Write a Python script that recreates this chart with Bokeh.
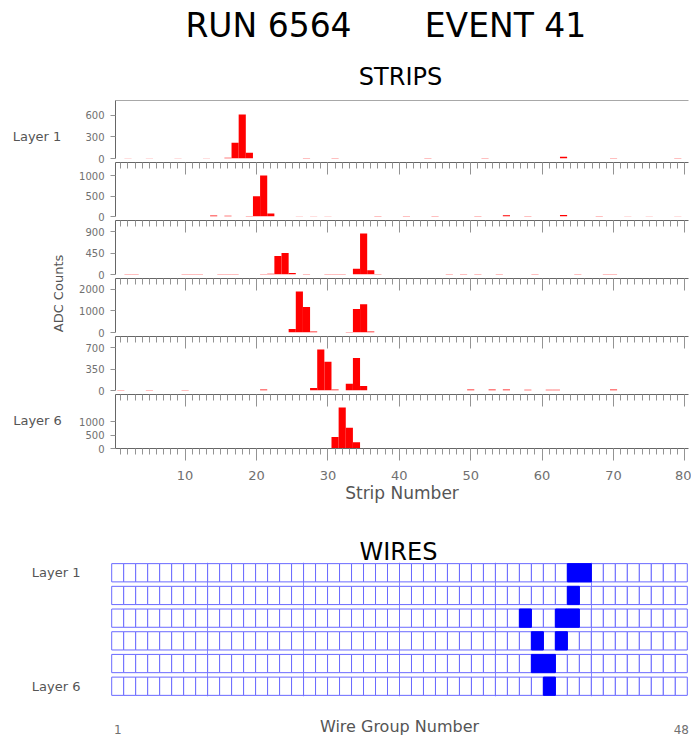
import math
from bokeh.plotting import figure
from bokeh.models import (Range1d, LinearAxis, FixedTicker, SingleIntervalTicker, Label,
                          CustomLabelingPolicy)
from bokeh.layouts import column, row
from bokeh.embed import file_html
from bokeh.resources import INLINE

# ---------------- data ----------------
run_number = 6564
event_number = 41

l1_strips = [2, 5, 9, 13, 16, 17, 18, 19, 27, 31, 44, 52, 63, 70, 79]
l1_adc    = [5, 5, 5, 5, 12, 218, 608, 80, 6, 6, 6, 6, 25, 6, 6]

l2_strips = [14, 16, 19, 20, 21, 22, 26, 28, 30, 37, 41, 45, 51, 55, 58, 63, 68, 72, 75, 79]
l2_adc    = [25, 20, 10, 497, 1000, 75, 8, 8, 8, 10, 10, 10, 10, 30, 10, 35, 10, 8, 8, 8]

l3_strips = [2, 3, 10, 11, 12, 15, 16, 17, 21, 22, 23, 24, 25, 27, 30, 31, 32,
             34, 35, 36, 37, 47, 49, 51, 54, 59, 65, 69, 70]
l3_adc    = [12, 12, 10, 10, 10, 10, 10, 10, 10, 15, 387, 450, 33, 10, 8, 8, 8,
             122, 857, 91, 10, 12, 12, 10, 10, 10, 8, 12, 12]

l4_strips = [25, 26, 27, 28, 33, 34, 35, 36]
l4_adc    = [159, 1888, 1176, 43, 20, 1090, 1305, 43]

l5_strips = [1, 5, 10, 21, 28, 29, 30, 31, 33, 34, 35, 50, 53, 55, 58, 61, 62, 70]
l5_adc    = [8, 8, 8, 15, 42, 672, 472, 15, 112, 534, 72, 15, 15, 15, 12, 12, 12, 15]

l6_strips = [7, 10, 31, 32, 33, 34, 50, 55, 56, 57, 58, 61, 63]
l6_adc    = [10, 10, 428, 1531, 772, 231, 8, 10, 10, 10, 10, 8, 8]

layer_strips = [l1_strips, l2_strips, l3_strips, l4_strips, l5_strips, l6_strips]
layer_adc = [l1_adc, l2_adc, l3_adc, l4_adc, l5_adc, l6_adc]
layer_yticks = [[0, 300, 600], [0, 500, 1000], [0, 450, 900],
                [0, 1000, 2000], [0, 350, 700], [0, 500, 1000]]

n_strips = 80
n_wire_groups = 48
n_layers = 6
hit_layers = [1, 1, 2, 3, 3, 3, 4, 4, 5, 5, 6]
hit_wires  = [39, 40, 39, 35, 38, 39, 36, 38, 36, 37, 37]

# ---------------- style ----------------
FONT = "DejaVu Sans"
TXT = "#555555"
TICKTXT = "#707070"
AXC = "#666666"
TKC = "#939393"
W = 691
FL, FR = 110, 3          # frame borders shared by full-width figures


def text_fig(height, y_top):
    f = figure(width=W, height=height, x_range=Range1d(FL, W - FR),
               y_range=Range1d(y_top + height, y_top),
               x_axis_location=None, y_axis_location=None,
               output_backend="svg", toolbar_location=None,
               min_border_left=FL, min_border_right=FR,
               min_border_top=0, min_border_bottom=0, outline_line_color=None,
               background_fill_alpha=0, border_fill_alpha=0)
    f.xgrid.visible = False
    f.ygrid.visible = False
    return f


def add_label(f, x, y, text, size, color="black", angle=0.0):
    f.add_layout(Label(x=x, y=y, text=text, text_font=FONT, text_font_size=size,
                       text_color=color, text_align="center", text_baseline="middle",
                       angle=angle))


no_labels = CustomLabelingPolicy(
    code="for (const i of Array.from(indices)) { indices.unset(i) } return indices")

# header
header = text_fig(100, 0)
add_label(header, 268, 25, "RUN %d" % run_number, "33px")
add_label(header, 505, 25, "EVENT %d" % event_number, "33px")
add_label(header, 400, 76, "STRIPS", "24px")

# strip panels
PANEL_H = 58
OVER = 7           # bottom room for the "0" label, overlapped by the next panel
P6_BOTTOM = 58
x_rng = Range1d(0.25, 80.5)
panels = []
for i in range(n_layers):
    strips = layer_strips[i]
    adc = layer_adc[i]
    last = (i == n_layers - 1)
    bottom = P6_BOTTOM if last else OVER
    p = figure(width=W - 70, height=PANEL_H + bottom, x_range=x_rng,
               y_range=Range1d(0, 1.32 * max(adc)),
               x_axis_location=None, y_axis_location=None,
               output_backend="svg", toolbar_location=None,
               min_border_left=45, min_border_right=3, min_border_top=0,
               min_border_bottom=bottom,
               outline_line_color=None, border_fill_alpha=0)
    if i > 0:
        p.styles = {"margin-top": "-%dpx" % OVER}
    p.xgrid.visible = False
    p.ygrid.visible = False

    yax = LinearAxis(ticker=FixedTicker(ticks=layer_yticks[i]),
                     major_tick_out=5, major_tick_in=0,
                     minor_tick_out=0, minor_tick_in=0,
                     axis_line_color=AXC, major_tick_line_color=TKC,
                     major_label_text_font=FONT, major_label_text_font_size="10px",
                     major_label_text_color=TICKTXT, major_label_standoff=6)
    p.add_layout(yax, "left")

    if i == 0:
        top = LinearAxis(ticker=FixedTicker(ticks=[]), major_tick_out=0, major_tick_in=0,
                         minor_tick_out=0, minor_tick_in=0, major_label_standoff=0,
                         axis_line_color="#a8a8a8")
    else:
        top = LinearAxis(ticker=SingleIntervalTicker(interval=10, num_minor_ticks=10),
                         major_tick_in=12, major_tick_out=0,
                         minor_tick_in=6, minor_tick_out=0,
                         major_label_standoff=0, major_label_text_font_size="1px",
                         major_label_policy=no_labels,
                         axis_line_color=AXC, major_tick_line_color=TKC,
                         minor_tick_line_color=TKC)
    p.add_layout(top, "above")

    if last:
        bot = LinearAxis(ticker=SingleIntervalTicker(interval=10, num_minor_ticks=10),
                         major_tick_out=12, major_tick_in=0,
                         minor_tick_out=6, minor_tick_in=0,
                         axis_line_color=AXC, major_tick_line_color=TKC,
                         minor_tick_line_color=TKC,
                         major_label_text_font=FONT, major_label_text_font_size="13px",
                         major_label_text_color=TICKTXT, major_label_standoff=10,
                         axis_label="Strip Number", axis_label_text_font=FONT,
                         axis_label_text_font_size="17px",
                         axis_label_text_font_style="normal",
                         axis_label_text_color=TXT, axis_label_standoff=0)
        p.add_layout(bot, "below")

    p.vbar(x=strips, width=1, top=adc, bottom=0,
           fill_color="#ff0000", line_color=None)
    panels.append(p)

col_h = PANEL_H * n_layers + P6_BOTTOM
side = figure(width=70, height=col_h, x_range=Range1d(0, 70),
              y_range=Range1d(100 + col_h, 100),
              x_axis_location=None, y_axis_location=None,
              output_backend="svg", toolbar_location=None,
              min_border=0, outline_line_color=None)
side.xgrid.visible = False
side.ygrid.visible = False
add_label(side, 36.5, 135.5, "Layer 1", "13px", TXT)
add_label(side, 58, 293, "ADC Counts", "13px", TXT, angle=math.pi / 2)
add_label(side, 37, 420, "Layer 6", "13px", TXT)

strips_block = row(side, column(*panels))

# "WIRES" heading (its lower edge is overlapped by the grid figure)
WH_TOP = 100 + col_h
WH_H = 570 - WH_TOP
WOVER = 8
wires_head = text_fig(WH_H, WH_TOP)
add_label(wires_head, 398, 551, "WIRES", "24px")

# wires grid
cell_w = []
cell_y = []
for L in range(1, n_layers + 1):
    for wg in range(1, n_wire_groups + 1):
        cell_w.append(wg)
        cell_y.append(n_layers + 1 - L)
hit_y = [n_layers + 1 - L for L in hit_layers]

row_frac = 0.804
pad = 0.05
WP_H = 738 - (WH_TOP + WH_H - WOVER)
y0w, y1w = 1 - row_frac / 2 - pad, n_layers + row_frac / 2 + pad
x0w, x1w = 0.4, n_wire_groups + 0.6
wp = figure(width=W, height=WP_H,
            x_range=Range1d(x0w, x1w), y_range=Range1d(y0w, y1w),
            x_axis_location=None, y_axis_location=None,
            output_backend="svg", toolbar_location=None,
            min_border_left=FL, min_border_right=FR, min_border_top=0,
            min_border_bottom=41, outline_line_color=None, border_fill_alpha=0)
wp.styles = {"margin-top": "-%dpx" % WOVER}
wp.ygrid.visible = False
wp.xgrid.ticker = FixedTicker(ticks=[8.5, 16.5, 24.5, 32.5, 40.5])
wp.xgrid.grid_line_color = "#6a6aff"
wp.xgrid.grid_line_alpha = 0.8

wp.rect(x=cell_w, y=cell_y, width=1, height=row_frac,
        fill_color="white", line_color="#6a6aff", line_width=1)
wp.rect(x=hit_wires, y=hit_y, width=1, height=row_frac,
        fill_color="#0000ff", line_color="#0000ff", line_width=1)

wy = LinearAxis(ticker=FixedTicker(ticks=[1, n_layers]),
                major_label_overrides={n_layers: "Layer 1", 1: "Layer %d" % n_layers},
                axis_line_color=None, major_tick_out=0, major_tick_in=0,
                minor_tick_out=0, minor_tick_in=0,
                major_label_text_font=FONT, major_label_text_font_size="13px",
                major_label_text_color=TXT, major_label_standoff=30)
wp.add_layout(wy, "left")

wx = LinearAxis(ticker=FixedTicker(ticks=[1, n_wire_groups]),
                axis_line_color=None, major_tick_out=0, major_tick_in=0,
                minor_tick_out=0, minor_tick_in=0,
                major_label_text_font=FONT, major_label_text_font_size="12px",
                major_label_text_color=TICKTXT, major_label_standoff=28,
                axis_label="Wire Group Number", axis_label_text_font=FONT,
                axis_label_text_font_size="16px", axis_label_text_font_style="normal",
                axis_label_text_color=TXT, axis_label_standoff=-20)
wp.add_layout(wx, "below")

layout = column(header, strips_block, wires_head, wp)

with open("out.html", "w") as fh:
    fh.write(file_html(layout, INLINE))
